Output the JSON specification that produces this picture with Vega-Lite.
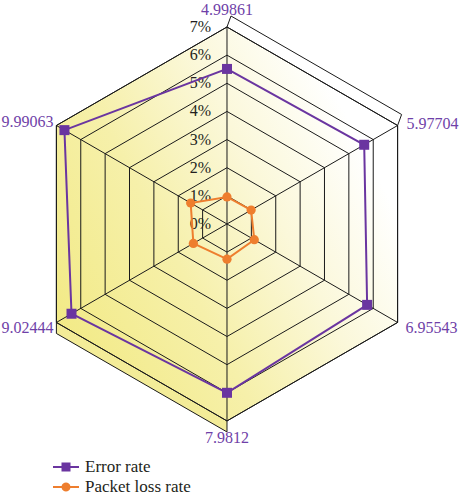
{
  "$schema": "https://vega.github.io/schema/vega-lite/v6.json",
  "width": 459,
  "height": 500,
  "padding": 0,
  "autosize": {"type": "none"},
  "background": "white",
  "config": {"view": {"stroke": null}},
  "datasets": {
    "rates": [
      {"series": "Error rate", "idx": 0, "value": 5.51},
      {"series": "Error rate", "idx": 1, "value": 5.63},
      {"series": "Error rate", "idx": 2, "value": 5.75},
      {"series": "Error rate", "idx": 3, "value": 6.0},
      {"series": "Error rate", "idx": 4, "value": 6.38},
      {"series": "Error rate", "idx": 5, "value": 6.67},
      {"series": "Packet loss rate", "idx": 0, "value": 0.96},
      {"series": "Packet loss rate", "idx": 1, "value": 0.99},
      {"series": "Packet loss rate", "idx": 2, "value": 1.12},
      {"series": "Packet loss rate", "idx": 3, "value": 1.25},
      {"series": "Packet loss rate", "idx": 4, "value": 1.38},
      {"series": "Packet loss rate", "idx": 5, "value": 1.49}
    ],
    "rings": [
      {"level": 1, "idx": 0}, {"level": 1, "idx": 1}, {"level": 1, "idx": 2}, {"level": 1, "idx": 3}, {"level": 1, "idx": 4}, {"level": 1, "idx": 5},
      {"level": 2, "idx": 0}, {"level": 2, "idx": 1}, {"level": 2, "idx": 2}, {"level": 2, "idx": 3}, {"level": 2, "idx": 4}, {"level": 2, "idx": 5},
      {"level": 3, "idx": 0}, {"level": 3, "idx": 1}, {"level": 3, "idx": 2}, {"level": 3, "idx": 3}, {"level": 3, "idx": 4}, {"level": 3, "idx": 5},
      {"level": 4, "idx": 0}, {"level": 4, "idx": 1}, {"level": 4, "idx": 2}, {"level": 4, "idx": 3}, {"level": 4, "idx": 4}, {"level": 4, "idx": 5},
      {"level": 5, "idx": 0}, {"level": 5, "idx": 1}, {"level": 5, "idx": 2}, {"level": 5, "idx": 3}, {"level": 5, "idx": 4}, {"level": 5, "idx": 5},
      {"level": 6, "idx": 0}, {"level": 6, "idx": 1}, {"level": 6, "idx": 2}, {"level": 6, "idx": 3}, {"level": 6, "idx": 4}, {"level": 6, "idx": 5},
      {"level": 7, "idx": 0}, {"level": 7, "idx": 1}, {"level": 7, "idx": 2}, {"level": 7, "idx": 3}, {"level": 7, "idx": 4}, {"level": 7, "idx": 5}
    ],
    "axes": [
      {"idx": 0, "label": "4.99861"},
      {"idx": 1, "label": "5.97704"},
      {"idx": 2, "label": "6.95543"},
      {"idx": 3, "label": "7.9812"},
      {"idx": 4, "label": "9.02444"},
      {"idx": 5, "label": "9.99063"}
    ],
    "ticks": [
      {"level": 0, "text": "0%"}, {"level": 1, "text": "1%"}, {"level": 2, "text": "2%"}, {"level": 3, "text": "3%"},
      {"level": 4, "text": "4%"}, {"level": 5, "text": "5%"}, {"level": 6, "text": "6%"}, {"level": 7, "text": "7%"}
    ]
  },
  "layer": [
    {
      "data": {"name": "rings"},
      "transform": [
        {"filter": "datum.level == 7 && (datum.idx == 3 || datum.idx == 4)"},
        {"calculate": "datum.level * sin(datum.idx * PI / 3)", "as": "px"},
        {"calculate": "datum.level * cos(datum.idx * PI / 3)", "as": "py"}
      ],
      "mark": {"type": "area", "fill": "#F3EC98", "y2Offset": 11, "stroke": null},
      "encoding": {
        "x": {"field": "px", "type": "quantitative", "scale": {"domain": [-8.066, 8.244]}, "axis": null},
        "y": {"field": "py", "type": "quantitative", "scale": {"domain": [-9.81, 7.96]}, "axis": null},
        "y2": {"field": "py"}
      }
    },
    {
      "data": {"name": "rings"},
      "transform": [
        {"filter": "datum.level == 7 && (datum.idx == 3 || datum.idx == 4)"},
        {"calculate": "datum.level * sin(datum.idx * PI / 3)", "as": "px"},
        {"calculate": "datum.level * cos(datum.idx * PI / 3)", "as": "py"}
      ],
      "mark": {"type": "line", "stroke": "#1a1a1a", "strokeWidth": 1, "yOffset": 11},
      "encoding": {
        "x": {"field": "px", "type": "quantitative", "scale": {"domain": [-8.066, 8.244]}, "axis": null},
        "y": {"field": "py", "type": "quantitative", "scale": {"domain": [-9.81, 7.96]}, "axis": null}
      }
    },
    {
      "data": {"name": "rings"},
      "transform": [
        {"filter": "datum.level == 7 && (datum.idx == 3 || datum.idx == 4)"},
        {"calculate": "datum.level * sin(datum.idx * PI / 3)", "as": "px"},
        {"calculate": "datum.level * cos(datum.idx * PI / 3)", "as": "py"}
      ],
      "mark": {"type": "rule", "stroke": "#1a1a1a", "strokeWidth": 1, "y2Offset": 11},
      "encoding": {
        "x": {"field": "px", "type": "quantitative", "scale": {"domain": [-8.066, 8.244]}, "axis": null},
        "y": {"field": "py", "type": "quantitative", "scale": {"domain": [-9.81, 7.96]}, "axis": null},
        "y2": {"field": "py"}
      }
    },
    {
      "data": {"name": "rings"},
      "transform": [
        {"filter": "datum.level == 7 && (datum.idx == 0 || datum.idx == 1)"},
        {"calculate": "datum.level * sin(datum.idx * PI / 3)", "as": "px"},
        {"calculate": "datum.level * cos(datum.idx * PI / 3)", "as": "py"}
      ],
      "mark": {"type": "line", "stroke": "#1a1a1a", "strokeWidth": 1, "xOffset": 4, "yOffset": -11},
      "encoding": {
        "x": {"field": "px", "type": "quantitative", "scale": {"domain": [-8.066, 8.244]}, "axis": null},
        "y": {"field": "py", "type": "quantitative", "scale": {"domain": [-9.81, 7.96]}, "axis": null}
      }
    },
    {
      "data": {"name": "rings"},
      "transform": [
        {"filter": "datum.level == 7 && (datum.idx == 0 || datum.idx == 1)"},
        {"calculate": "datum.level * sin(datum.idx * PI / 3)", "as": "px"},
        {"calculate": "datum.level * cos(datum.idx * PI / 3)", "as": "py"}
      ],
      "mark": {"type": "rule", "stroke": "#1a1a1a", "strokeWidth": 1, "x2Offset": 4, "y2Offset": -11},
      "encoding": {
        "x": {"field": "px", "type": "quantitative", "scale": {"domain": [-8.066, 8.244]}, "axis": null},
        "y": {"field": "py", "type": "quantitative", "scale": {"domain": [-9.81, 7.96]}, "axis": null},
        "x2": {"field": "px"},
        "y2": {"field": "py"}
      }
    },
    {
      "data": {"name": "rings"},
      "transform": [
        {"filter": "datum.level == 7"},
        {"calculate": "datum.level * sin(datum.idx * PI / 3)", "as": "px"},
        {"calculate": "datum.level * cos(datum.idx * PI / 3)", "as": "py"}
      ],
      "mark": {
        "type": "line",
        "interpolate": "linear-closed",
        "stroke": "#1a1a1a",
        "strokeWidth": 1,
        "fill": {
          "gradient": "linear",
          "x1": 0, "y1": 0.8, "x2": 1, "y2": 0.2,
          "stops": [
            {"offset": 0, "color": "#F2EA84"},
            {"offset": 0.35, "color": "#F6F0AA"},
            {"offset": 0.62, "color": "#FBF8DA"},
            {"offset": 0.88, "color": "#FFFFFF"}
          ]
        }
      },
      "encoding": {
        "x": {"field": "px", "type": "quantitative", "scale": {"domain": [-8.066, 8.244]}, "axis": null},
        "y": {"field": "py", "type": "quantitative", "scale": {"domain": [-9.81, 7.96]}, "axis": null},
        "order": {"field": "idx", "type": "quantitative"}
      }
    },
    {
      "data": {"name": "rings"},
      "transform": [
        {"calculate": "datum.level * sin(datum.idx * PI / 3)", "as": "px"},
        {"calculate": "datum.level * cos(datum.idx * PI / 3)", "as": "py"}
      ],
      "mark": {"type": "line", "interpolate": "linear-closed", "stroke": "#1a1a1a", "strokeWidth": 1},
      "encoding": {
        "x": {"field": "px", "type": "quantitative", "scale": {"domain": [-8.066, 8.244]}, "axis": null},
        "y": {"field": "py", "type": "quantitative", "scale": {"domain": [-9.81, 7.96]}, "axis": null},
        "detail": {"field": "level", "type": "nominal"},
        "order": {"field": "idx", "type": "quantitative"}
      }
    },
    {
      "data": {"name": "axes"},
      "transform": [
        {"calculate": "7 * sin(datum.idx * PI / 3)", "as": "px"},
        {"calculate": "7 * cos(datum.idx * PI / 3)", "as": "py"},
        {"calculate": "0", "as": "ox"},
        {"calculate": "0", "as": "oy"}
      ],
      "mark": {"type": "rule", "stroke": "#1a1a1a", "strokeWidth": 1},
      "encoding": {
        "x": {"field": "ox", "type": "quantitative", "scale": {"domain": [-8.066, 8.244]}, "axis": null},
        "y": {"field": "oy", "type": "quantitative", "scale": {"domain": [-9.81, 7.96]}, "axis": null},
        "x2": {"field": "px"},
        "y2": {"field": "py"}
      }
    },
    {
      "data": {"name": "ticks"},
      "transform": [
        {"calculate": "0", "as": "ox"}
      ],
      "mark": {"type": "text", "align": "right", "baseline": "middle", "dx": -16, "font": "Liberation Serif, DejaVu Serif, serif", "fontSize": 16, "color": "#231f20"},
      "encoding": {
        "x": {"field": "ox", "type": "quantitative", "scale": {"domain": [-8.066, 8.244]}, "axis": null},
        "y": {"field": "level", "type": "quantitative", "scale": {"domain": [-9.81, 7.96]}, "axis": null},
        "text": {"field": "text", "type": "nominal"}
      }
    },
    {
      "data": {"name": "axes"},
      "transform": [
        {"filter": "datum.idx == 0"},
        {"calculate": "7 * sin(datum.idx * PI / 3)", "as": "px"},
        {"calculate": "7 * cos(datum.idx * PI / 3)", "as": "py"}
      ],
      "mark": {"type": "text", "align": "center", "baseline": "alphabetic", "dy": -12, "font": "Liberation Serif, DejaVu Serif, serif", "fontSize": 16, "color": "#6F3FA8"},
      "encoding": {
        "x": {"field": "px", "type": "quantitative", "scale": {"domain": [-8.066, 8.244]}, "axis": null},
        "y": {"field": "py", "type": "quantitative", "scale": {"domain": [-9.81, 7.96]}, "axis": null},
        "text": {"field": "label", "type": "nominal"}
      }
    },
    {
      "data": {"name": "axes"},
      "transform": [
        {"filter": "datum.idx == 3"},
        {"calculate": "7 * sin(datum.idx * PI / 3)", "as": "px"},
        {"calculate": "7 * cos(datum.idx * PI / 3)", "as": "py"}
      ],
      "mark": {"type": "text", "align": "center", "baseline": "alphabetic", "dy": 22, "font": "Liberation Serif, DejaVu Serif, serif", "fontSize": 16, "color": "#6F3FA8"},
      "encoding": {
        "x": {"field": "px", "type": "quantitative", "scale": {"domain": [-8.066, 8.244]}, "axis": null},
        "y": {"field": "py", "type": "quantitative", "scale": {"domain": [-9.81, 7.96]}, "axis": null},
        "text": {"field": "label", "type": "nominal"}
      }
    },
    {
      "data": {"name": "axes"},
      "transform": [
        {"filter": "datum.idx == 1"},
        {"calculate": "7 * sin(datum.idx * PI / 3)", "as": "px"},
        {"calculate": "7 * cos(datum.idx * PI / 3)", "as": "py"}
      ],
      "mark": {"type": "text", "align": "left", "baseline": "alphabetic", "dx": 9, "dy": 4, "font": "Liberation Serif, DejaVu Serif, serif", "fontSize": 16, "color": "#6F3FA8"},
      "encoding": {
        "x": {"field": "px", "type": "quantitative", "scale": {"domain": [-8.066, 8.244]}, "axis": null},
        "y": {"field": "py", "type": "quantitative", "scale": {"domain": [-9.81, 7.96]}, "axis": null},
        "text": {"field": "label", "type": "nominal"}
      }
    },
    {
      "data": {"name": "axes"},
      "transform": [
        {"filter": "datum.idx == 2"},
        {"calculate": "7 * sin(datum.idx * PI / 3)", "as": "px"},
        {"calculate": "7 * cos(datum.idx * PI / 3)", "as": "py"}
      ],
      "mark": {"type": "text", "align": "left", "baseline": "alphabetic", "dx": 8, "dy": 11, "font": "Liberation Serif, DejaVu Serif, serif", "fontSize": 16, "color": "#6F3FA8"},
      "encoding": {
        "x": {"field": "px", "type": "quantitative", "scale": {"domain": [-8.066, 8.244]}, "axis": null},
        "y": {"field": "py", "type": "quantitative", "scale": {"domain": [-9.81, 7.96]}, "axis": null},
        "text": {"field": "label", "type": "nominal"}
      }
    },
    {
      "data": {"name": "axes"},
      "transform": [
        {"filter": "datum.idx == 4"},
        {"calculate": "7 * sin(datum.idx * PI / 3)", "as": "px"},
        {"calculate": "7 * cos(datum.idx * PI / 3)", "as": "py"}
      ],
      "mark": {"type": "text", "align": "right", "baseline": "alphabetic", "dx": -3, "dy": 11, "font": "Liberation Serif, DejaVu Serif, serif", "fontSize": 16, "color": "#6F3FA8"},
      "encoding": {
        "x": {"field": "px", "type": "quantitative", "scale": {"domain": [-8.066, 8.244]}, "axis": null},
        "y": {"field": "py", "type": "quantitative", "scale": {"domain": [-9.81, 7.96]}, "axis": null},
        "text": {"field": "label", "type": "nominal"}
      }
    },
    {
      "data": {"name": "axes"},
      "transform": [
        {"filter": "datum.idx == 5"},
        {"calculate": "7 * sin(datum.idx * PI / 3)", "as": "px"},
        {"calculate": "7 * cos(datum.idx * PI / 3)", "as": "py"}
      ],
      "mark": {"type": "text", "align": "right", "baseline": "alphabetic", "dx": -3, "dy": 2, "font": "Liberation Serif, DejaVu Serif, serif", "fontSize": 16, "color": "#6F3FA8"},
      "encoding": {
        "x": {"field": "px", "type": "quantitative", "scale": {"domain": [-8.066, 8.244]}, "axis": null},
        "y": {"field": "py", "type": "quantitative", "scale": {"domain": [-9.81, 7.96]}, "axis": null},
        "text": {"field": "label", "type": "nominal"}
      }
    },
    {
      "data": {"name": "rates"},
      "transform": [
        {"calculate": "datum.value * sin(datum.idx * PI / 3)", "as": "px"},
        {"calculate": "datum.value * cos(datum.idx * PI / 3)", "as": "py"}
      ],
      "mark": {"type": "line", "interpolate": "linear-closed", "strokeWidth": 2},
      "encoding": {
        "x": {"field": "px", "type": "quantitative", "scale": {"domain": [-8.066, 8.244]}, "axis": null},
        "y": {"field": "py", "type": "quantitative", "scale": {"domain": [-9.81, 7.96]}, "axis": null},
        "order": {"field": "idx", "type": "quantitative"},
        "color": {
          "field": "series",
          "type": "nominal",
          "scale": {"domain": ["Error rate", "Packet loss rate"], "range": ["#6A35A0", "#EE7E2E"]},
          "legend": {
            "title": null,
            "orient": "none",
            "legendX": 56,
            "legendY": 457,
            "direction": "vertical",
            "padding": 0,
            "symbolSize": 400,
            "symbolStrokeWidth": 0,
            "rowPadding": 2,
            "labelOffset": 9,
            "labelFont": "Liberation Serif, DejaVu Serif, serif",
            "labelFontSize": 17,
            "labelColor": "#231f20",
            "encode": {
              "symbols": {
                "update": {
                  "fill": {"scale": "color", "field": "value"},
                  "fillOpacity": {"value": 1},
                  "strokeWidth": {"value": 0},
                  "shape": {"signal": "datum.value === 'Error rate' ? 'M-1.3,-0.1H-0.45V-0.45H0.45V-0.1H1.3V0.1H0.45V0.45H-0.45V0.1H-1.3Z' : 'M-1.3,-0.1H-0.439A0.45,0.45 0 0 1 0.439,-0.1H1.3V0.1H0.439A0.45,0.45 0 0 1 -0.439,0.1H-1.3Z'"}
                }
              }
            }
          }
        }
      }
    },
    {
      "data": {"name": "rates"},
      "transform": [
        {"filter": "datum.series == 'Error rate'"},
        {"calculate": "datum.value * sin(datum.idx * PI / 3)", "as": "px"},
        {"calculate": "datum.value * cos(datum.idx * PI / 3)", "as": "py"}
      ],
      "mark": {"type": "square", "opacity": 1, "size": 100, "color": "#6A35A0"},
      "encoding": {
        "x": {"field": "px", "type": "quantitative", "scale": {"domain": [-8.066, 8.244]}, "axis": null},
        "y": {"field": "py", "type": "quantitative", "scale": {"domain": [-9.81, 7.96]}, "axis": null}
      }
    },
    {
      "data": {"name": "rates"},
      "transform": [
        {"filter": "datum.series == 'Packet loss rate'"},
        {"calculate": "datum.value * sin(datum.idx * PI / 3)", "as": "px"},
        {"calculate": "datum.value * cos(datum.idx * PI / 3)", "as": "py"}
      ],
      "mark": {"type": "circle", "opacity": 1, "size": 85, "color": "#EE7E2E"},
      "encoding": {
        "x": {"field": "px", "type": "quantitative", "scale": {"domain": [-8.066, 8.244]}, "axis": null},
        "y": {"field": "py", "type": "quantitative", "scale": {"domain": [-9.81, 7.96]}, "axis": null}
      }
    }
  ]
}
